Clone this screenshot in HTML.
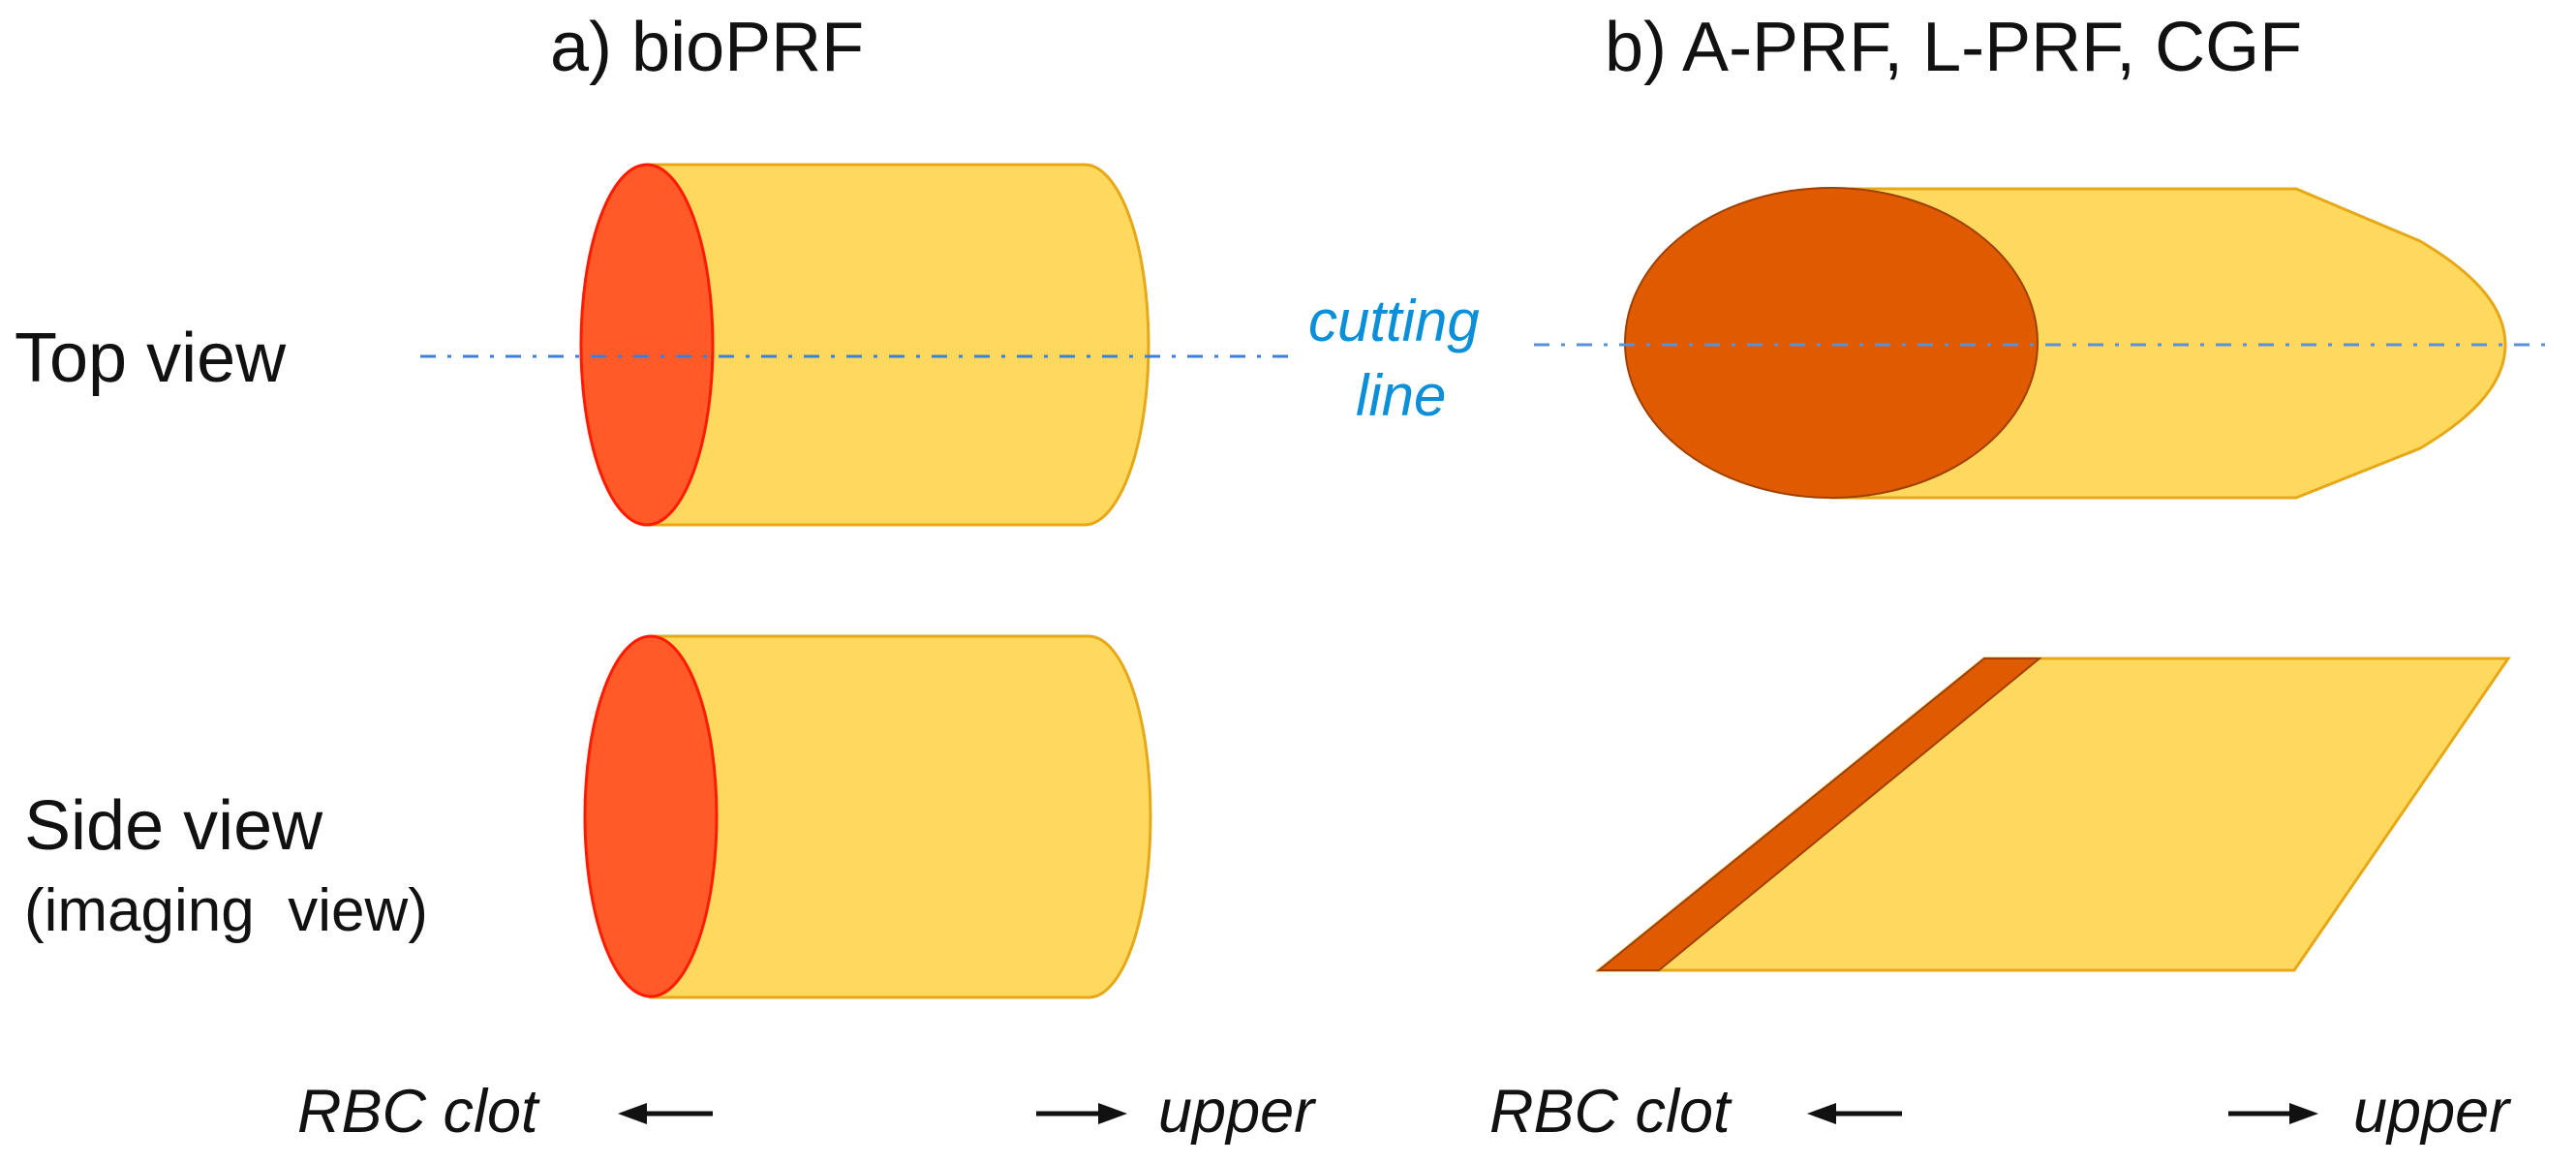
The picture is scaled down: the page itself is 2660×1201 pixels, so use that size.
<!DOCTYPE html>
<html><head><meta charset="utf-8"><style>
html,body{margin:0;padding:0;background:#fff;}
svg{display:block;}
text{font-family:"Liberation Sans",Arial,sans-serif;fill:#111;}
</style></head><body>
<svg width="2660" height="1201" viewBox="0 0 2660 1201" xmlns="http://www.w3.org/2000/svg">
<text x="568" y="73" font-size="72">a) bioPRF</text>
<text x="1657" y="73" font-size="72">b) A-PRF, L-PRF, CGF</text>
<text x="15" y="394" font-size="72">Top view</text>
<text x="25" y="877" font-size="72">Side view</text>
<text x="25" y="961" font-size="62" xml:space="preserve">(imaging  view)</text>

<path d="M668,170 L1120,170 C1155,170 1186,250 1186,356 C1186,462 1155,542 1120,542 L668,542 Z" fill="#FFD95E" stroke="#E6A817" stroke-width="3"/>
<ellipse cx="668" cy="356" rx="68" ry="186" fill="#FF5A28" stroke="#FF1A00" stroke-width="3"/>
<path d="M672,657 L1124,657 C1159,657 1188,737 1188,843 C1188,950 1159,1030 1124,1030 L672,1030 Z" fill="#FFD95E" stroke="#E6A817" stroke-width="3"/>
<ellipse cx="672" cy="843" rx="68" ry="186" fill="#FF5A28" stroke="#FF1A00" stroke-width="3"/>

<path d="M1891,195 L2371,195 L2499,249 C2560,285 2587,320 2587,356 C2587,392 2560,427 2499,463 L2371,514 L1891,514 Z" fill="#FFD95E" stroke="#E6A817" stroke-width="3"/>
<ellipse cx="1891" cy="354" rx="213" ry="160" fill="#E05A00" stroke="#A04000" stroke-width="2"/>

<path d="M2049,680 L2590,680 L2369,1002 L1651,1002 Z" fill="#FFD95E" stroke="#E6A817" stroke-width="3"/>
<path d="M2049,680 L2106,680 L1713,1002 L1651,1002 Z" fill="#E05A00" stroke="#A04000" stroke-width="2"/>

<line x1="434" y1="368" x2="1331" y2="368" stroke="#3A7FD8" stroke-width="3" stroke-dasharray="16,12,4,12"/>
<line x1="1584" y1="356" x2="2628" y2="356" stroke="#5A8FDA" stroke-width="3" stroke-dasharray="16,12,4,12"/>
<text x="1351" y="352" font-size="60" font-style="italic" style="fill:#0A8FD8">cutting</text>
<text x="1400" y="429" font-size="60" font-style="italic" style="fill:#0A8FD8">line</text>

<text x="307" y="1169" font-size="63" font-style="italic">RBC clot</text>
<line x1="736" y1="1150" x2="660" y2="1150" stroke="#111" stroke-width="5"/>
<path d="M638,1150 L668,1139 L668,1161 Z" fill="#111"/>
<line x1="1070" y1="1150" x2="1140" y2="1150" stroke="#111" stroke-width="5"/>
<path d="M1164,1150 L1134,1139 L1134,1161 Z" fill="#111"/>
<text x="1196" y="1169" font-size="63" font-style="italic">upper</text>

<text x="1538" y="1169" font-size="63" font-style="italic">RBC clot</text>
<line x1="1964" y1="1150" x2="1890" y2="1150" stroke="#111" stroke-width="5"/>
<path d="M1866,1150 L1896,1139 L1896,1161 Z" fill="#111"/>
<line x1="2301" y1="1150" x2="2370" y2="1150" stroke="#111" stroke-width="5"/>
<path d="M2394,1150 L2364,1139 L2364,1161 Z" fill="#111"/>
<text x="2430" y="1169" font-size="63" font-style="italic">upper</text>
</svg>
</body></html>
